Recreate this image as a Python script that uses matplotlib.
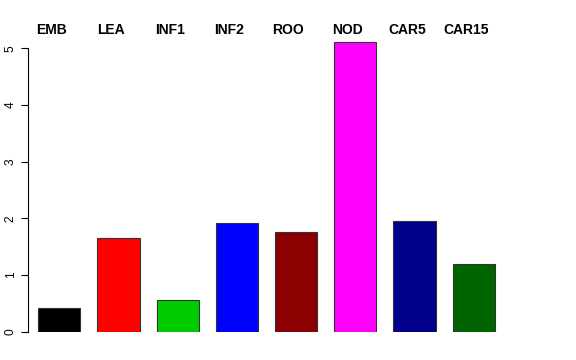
import matplotlib
matplotlib.use('Agg')
import matplotlib.pyplot as plt
import numpy as np

samples = ['EMB', 'LEA', 'INF1', 'INF2', 'ROO', 'NOD', 'CAR5', 'CAR15']
values = [0.41, 1.66, 0.56, 1.92, 1.76, 5.11, 1.95, 1.20]
colors = ['black', 'red', '#00CD00', 'blue', '#8B0000', 'magenta', '#00008B', '#006400']

plt.rcParams['font.family'] = ['Liberation Sans', 'DejaVu Sans']

fig = plt.figure(figsize=(5.76, 3.6), dpi=100)
ax = fig.add_axes([28/576, 28.3/360, 512/576, 5.2*56.7/360])

x = np.arange(len(samples))
ax.bar(x, values, width=0.71, color=colors, edgecolor='#333333', linewidth=0.8)
ax.set_xlim(-0.529, 8.12)
ax.set_ylim(0, 5.2)

# sample names in a row above the plot
label_y = 1 + (331.7 - 30 - 5.2*56.7) / (5.2*56.7)
for i, name in enumerate(samples):
    ax.text(i - 0.13, label_y, name, transform=ax.get_xaxis_transform(),
            ha='center', va='center', fontsize=10, fontweight='bold',
            clip_on=False)

for s in ['top', 'right', 'bottom']:
    ax.spines[s].set_visible(False)
ax.spines['left'].set_bounds(0, 5)
ax.spines['left'].set_linewidth(0.8)
ax.set_xticks([])
ax.set_yticks([0, 1, 2, 3, 4, 5])
ax.tick_params(axis='y', length=5, width=0.8, labelsize=8.6, pad=3)
for lab in ax.get_yticklabels():
    lab.set_rotation(90)
    lab.set_va('center')

fig.savefig('out.png', dpi=100)
